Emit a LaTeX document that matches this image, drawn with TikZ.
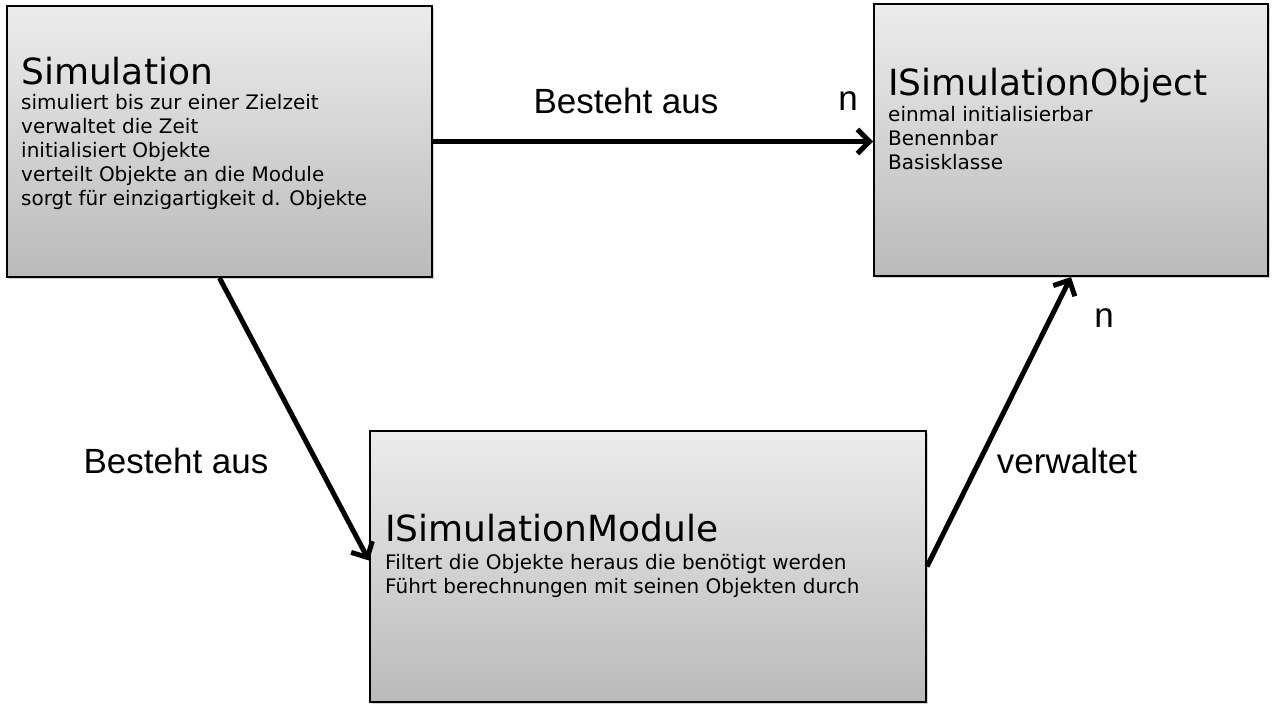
\documentclass[tikz,border=0pt]{standalone}
\usepackage{fontspec}
\setmainfont{DejaVu Sans}
\newfontfamily\labelfont{Liberation Sans}
\usetikzlibrary{positioning,arrows.meta,shadows}
\definecolor{BoxTop}{RGB}{236,236,236}
\definecolor{BoxBottom}{RGB}{186,186,186}

\begin{document}
\begin{tikzpicture}[x=1pt,y=1pt,
    classbox/.style={draw, line width=2pt, top color=BoxTop, bottom color=BoxBottom,
        drop shadow={shadow xshift=2pt, shadow yshift=-2pt, opacity=0.35},
        inner sep=0pt, anchor=north west},
    classtitle/.style={inner sep=0pt, anchor=base west, font=\fontsize{36}{40}\selectfont},
    classbody/.style={inner sep=0pt, anchor=north west, align=left,
        font=\fontsize{20}{24}\selectfont},
    relation/.style={line width=5pt, -{Straight Barb[length=12pt, width=24pt]}},
    rellabel/.style={inner sep=0pt, font=\labelfont\fontsize{35}{40}\selectfont}]
    \useasboundingbox (0,0) rectangle (1274,-710);

    % Boxes
    \node[classbox, minimum width=425, minimum height=271] (sim) at (6,-5) {};
    \node[classbox, minimum width=394, minimum height=272] (obj) at (873,-3) {};
    \node[classbox, minimum width=556, minimum height=271] (mod) at (369,-430) {};

    % Box texts
    \node[classtitle] (simtitle) at ([xshift=15, yshift=-79] sim.north west) {Simulation};
    \node[classbody] (simbody) at ([yshift=-10] simtitle.base west)
        {simuliert bis zur einer Zielzeit\\ verwaltet die Zeit\\ initialisiert Objekte\\
         verteilt Objekte an die Module\\ sorgt für einzigartigkeit d. Objekte};
    \node[classtitle] (objtitle) at ([xshift=15, yshift=-92] obj.north west) {ISimulationObject};
    \node[classbody] (objbody) at ([yshift=-11] objtitle.base west)
        {einmal initialisierbar\\ Benennbar\\ Basisklasse};
    \node[classtitle] (modtitle) at ([xshift=16, yshift=-111] mod.north west) {ISimulationModule};
    \node[classbody] (modbody) at ([yshift=-13] modtitle.base west)
        {Filtert die Objekte heraus die benötigt werden\\
         Führt berechnungen mit seinen Objekten durch};

    % Connectors
    \draw[relation] (sim.east) -- (sim.east -| obj.west);
    \draw[relation] (sim.south) -- ([yshift=6] mod.west);
    \draw[relation] (mod.east) -- (obj.south);

    % Labels
    \node[rellabel] (consists1) at (626,-101) {Besteht aus};
    \node[rellabel] (many1) at (848,-101) {n};
    \node[rellabel] (consists2) at (176,-461) {Besteht aus};
    \node[rellabel] (many2) at (1104,-318) {n};
    \node[rellabel] (manages) at (1067,-461) {verwaltet};
\end{tikzpicture}
\end{document}
